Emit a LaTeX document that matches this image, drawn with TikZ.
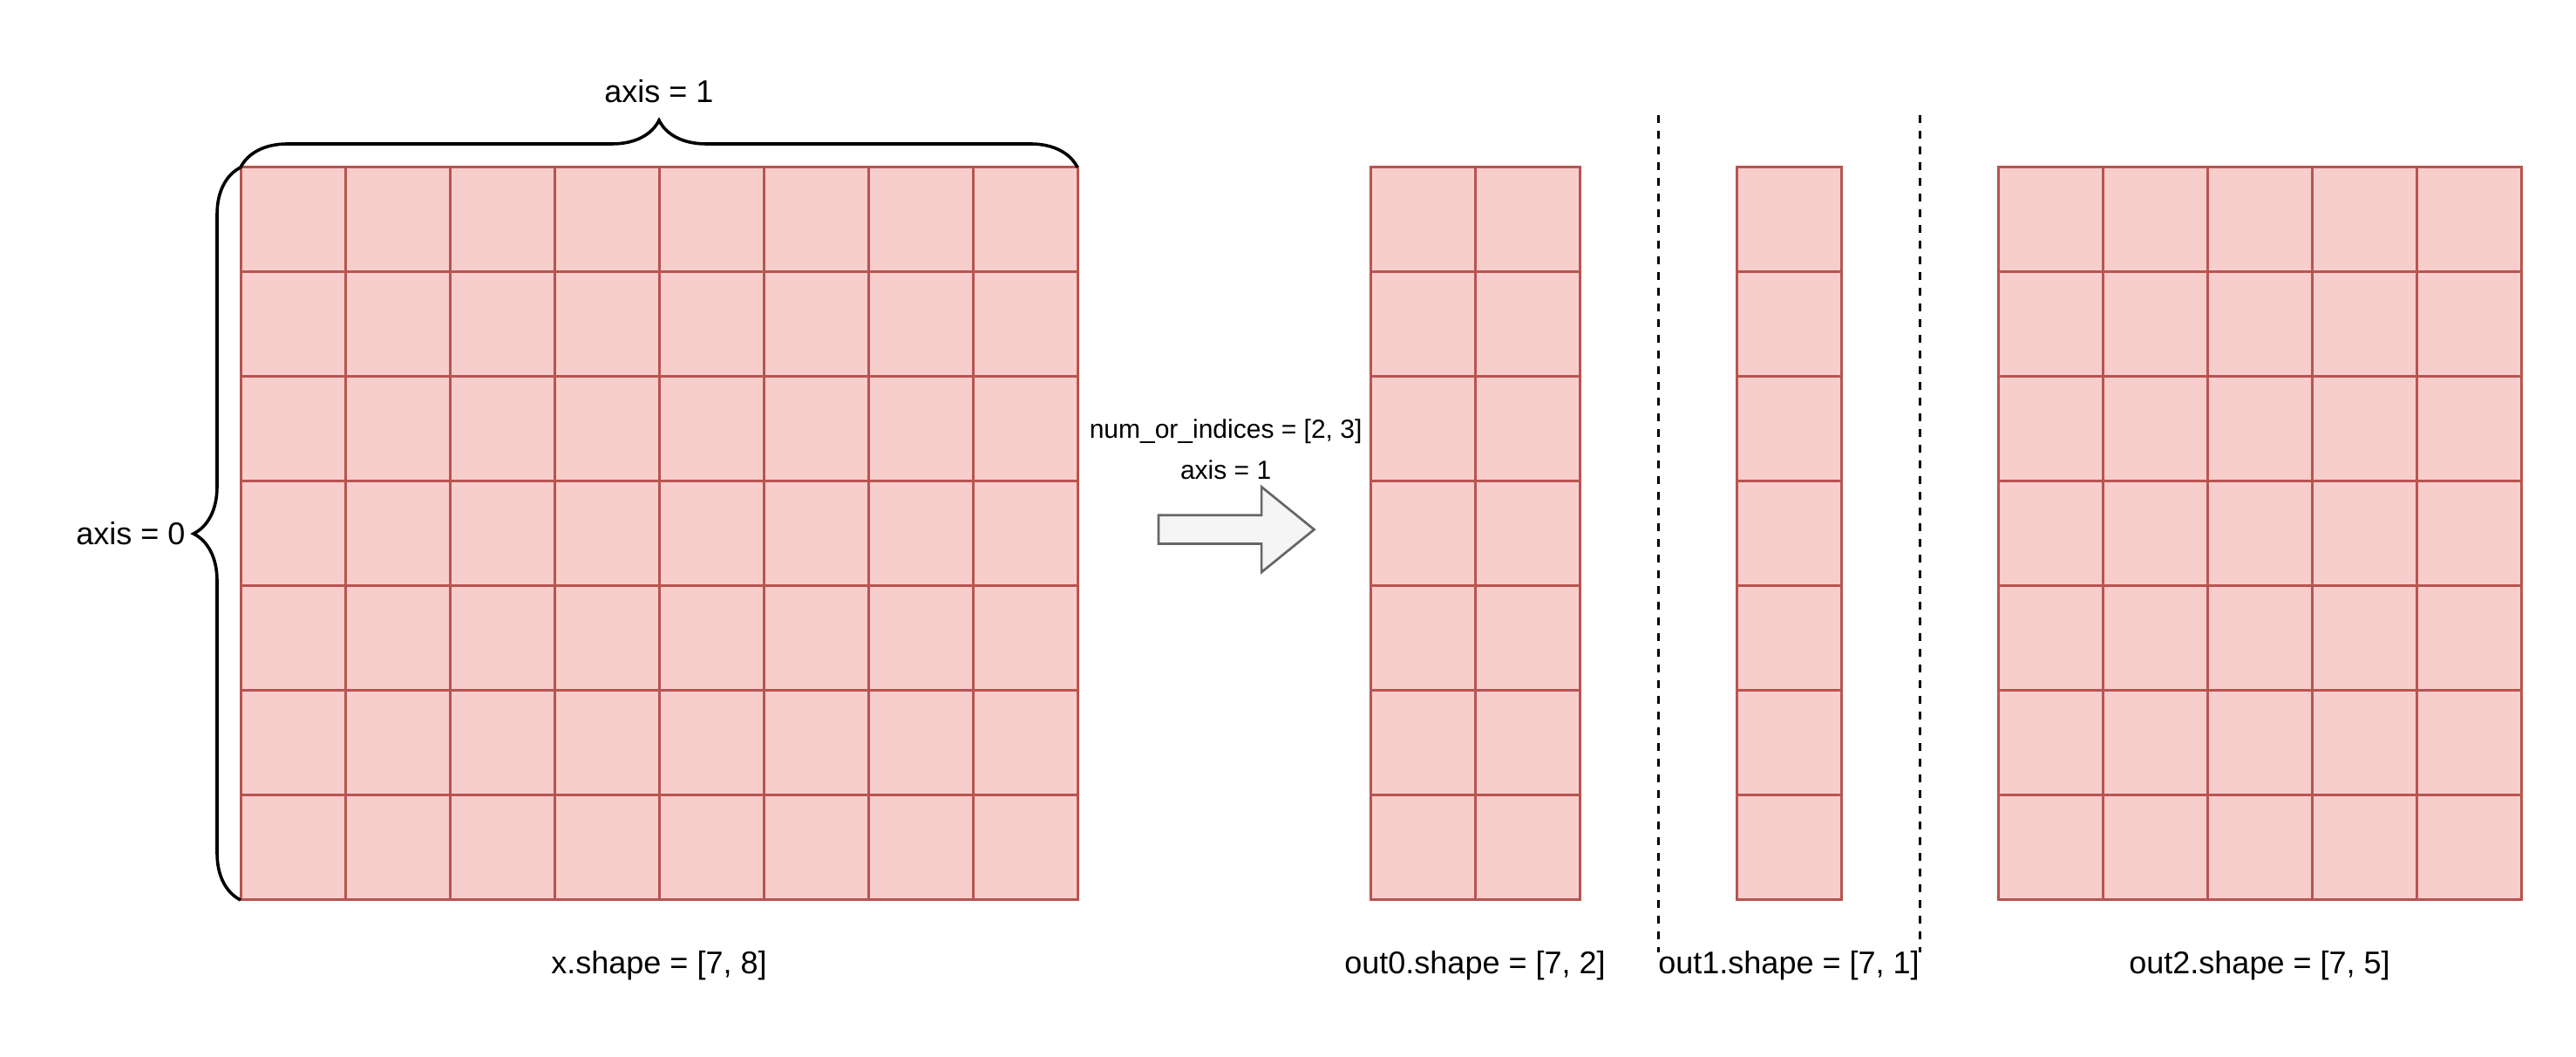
\documentclass[tikz,border=0pt]{standalone}
\usepackage{fontspec}
\setmainfont{Liberation Sans}
\usepackage{xcolor}
\usepackage{tikz}
\usetikzlibrary{calc}
\usetikzlibrary{shapes}
\usetikzlibrary{decorations.pathreplacing}

\definecolor{cellfill}{HTML}{F8CECC}
\definecolor{cellline}{HTML}{B85450}
\definecolor{arrowfill}{HTML}{F5F5F5}
\definecolor{arrowline}{HTML}{666666}

\begin{document}
\begin{tikzpicture}[x=1pt,y=1pt,
		cell/.style={rectangle,draw=cellline,fill=cellfill,line width=1pt,minimum width=40pt,minimum height=40pt,inner sep=0pt,outer sep=0pt},
		shapetext/.style={font=\fontsize{12}{14}\selectfont,inner sep=0pt},
		optext/.style={font=\fontsize{10}{12}\selectfont,inner sep=0pt},
		bracket/.style={decorate,decoration={brace,amplitude=18pt},line width=1.2pt},
		split/.style={draw=black,line width=1pt,dash pattern=on 3pt off 3pt}]
		\useasboundingbox (0,0) rectangle (985,404);

		%elements
		\foreach \r in {0,...,6} {
			\foreach \c in {0,...,7}
				\node [cell] at (112+40*\c,320-40*\r) (x-\r-\c) {};
			\foreach \c in {0,1}
				\node [cell] at (544+40*\c,320-40*\r) (a-\r-\c) {};
			\node [cell] at (684,320-40*\r) (b-\r-0) {};
			\foreach \c in {0,...,4}
				\node [cell] at (784+40*\c,320-40*\r) (c-\r-\c) {};
		}

		\node [single arrow,draw=arrowline,fill=arrowfill,line width=0.9pt,inner sep=5pt,outer sep=0pt,minimum height=59.5pt,single arrow head extend=10.85pt,single arrow tip angle=78,anchor=tail] at (443,201.6) (arrow) {};

		\coordinate (cut1top) at ($(a-0-1.north east)!0.5!(b-0-0.north west)+(0,20pt)$);
		\coordinate (cut1bot) at ($(a-6-1.south east)!0.5!(b-6-0.south west)+(0,-20pt)$);
		\coordinate (cut2top) at ($(b-0-0.north east)!0.5!(c-0-0.north west)+(0,20pt)$);
		\coordinate (cut2bot) at ($(b-6-0.south east)!0.5!(c-6-0.south west)+(0,-20pt)$);

		%braces
		\draw [bracket] (x-6-0.south west) -- (x-0-0.north west);
		\draw [bracket] (x-0-0.north west) -- (x-0-7.north east);
		\draw [split] (cut1top) -- (cut1bot);
		\draw [split] (cut2top) -- (cut2bot);

		%text
		\node [shapetext] at ($(x-0-0.north west)!0.5!(x-0-7.north east)+(0,29pt)$) (axisone) {axis = 1};
		\node [shapetext,anchor=east] at ($(x-3-0.west)+(-21pt,0)$) (axiszero) {axis = 0};
		\node [optext] at ($(arrow.tail)+(25.7pt,37.4pt)$) (indices) {num\_or\_indices = [2, 3]};
		\node [optext] at ($(arrow.tail)+(25.7pt,22.9pt)$) (axisarg) {axis = 1};
		\node [shapetext] at ($(x-6-0.south west)!0.5!(x-6-7.south east)+(0,-25pt)$) (xshape) {x.shape = [7, 8]};
		\node [shapetext] at ($(a-6-0.south west)!0.5!(a-6-1.south east)+(0,-25pt)$) (ashape) {out0.shape = [7, 2]};
		\node [shapetext] at ($(b-6-0.south west)!0.5!(b-6-0.south east)+(0,-25pt)$) (bshape) {out1.shape = [7, 1]};
		\node [shapetext] at ($(c-6-0.south west)!0.5!(c-6-4.south east)+(0,-25pt)$) (cshape) {out2.shape = [7, 5]};
		\end{tikzpicture}
\end{document}
